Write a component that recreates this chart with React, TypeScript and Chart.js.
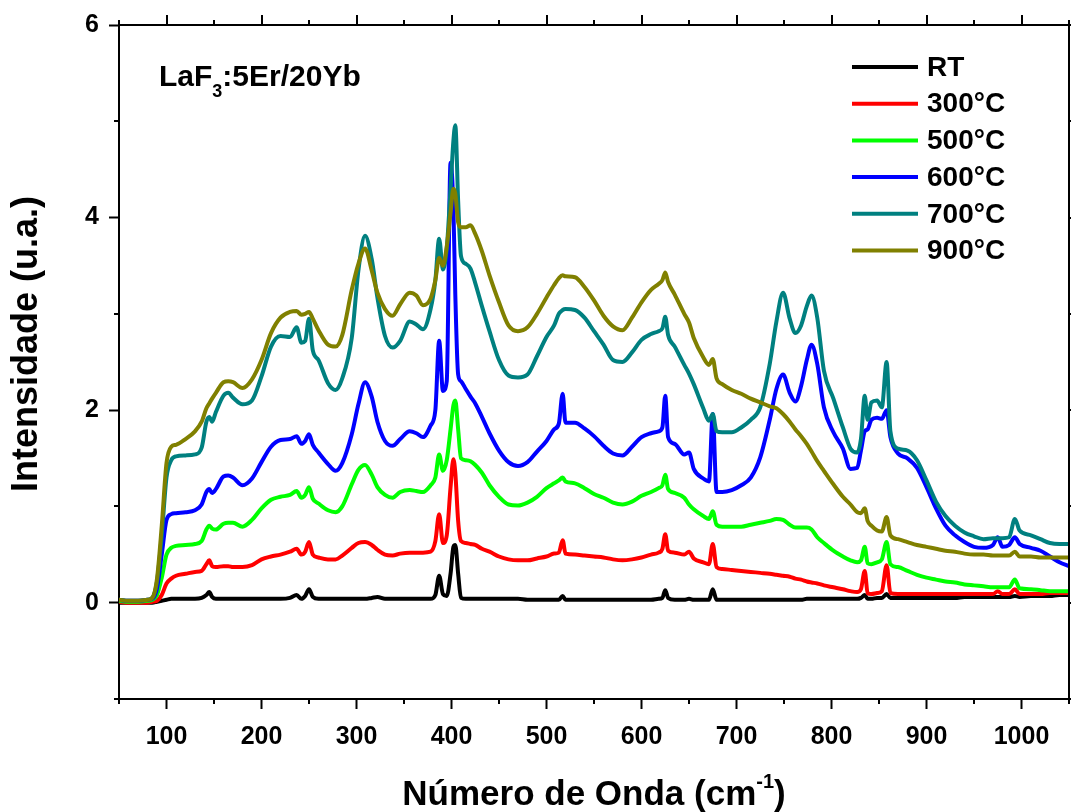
import React, { useEffect, useRef } from "react";
import { Chart, registerables } from "chart.js";

Chart.register(...registerables);

const FONT = "'Liberation Sans', Arial, Helvetica, sans-serif";

// Raman shift (cm^-1)
const WAVENUMBER = [
  50, 60, 70, 80, 85, 90, 95, 100, 105, 110,
  120, 130, 137, 142, 145, 148, 152, 160, 165, 170,
  180, 190, 200, 210, 220, 230, 237, 242, 246, 250,
  254, 260, 270, 278, 285, 295, 302, 309, 316, 322,
  330, 338, 346, 356, 363, 370, 378, 383, 387, 391,
  395, 399, 402, 404, 407, 410, 415, 420, 425, 432,
  440, 450, 460, 470, 480, 490, 500, 508, 513, 517,
  520, 530, 540, 550, 560, 570, 580, 590, 600, 610,
  618, 622, 625, 628, 635, 645, 650, 655, 665, 671,
  675, 679, 685, 695, 705, 715, 725, 735, 742, 749,
  756, 762, 768, 774, 779, 785, 792, 802, 812, 820,
  827, 831, 835, 838, 842, 848, 853, 858, 862, 870,
  880, 890, 900, 910, 920, 930, 940, 950, 960, 970,
  975, 980, 987, 993, 998, 1010, 1020, 1030, 1040, 1050,
];

const RT = [
  0.00, 0.00, 0.00, 0.00, 0.00, 0.01, 0.02, 0.03, 0.04, 0.04,
  0.04, 0.04, 0.05, 0.08, 0.11, 0.06, 0.04, 0.04, 0.04, 0.04,
  0.04, 0.04, 0.04, 0.04, 0.04, 0.05, 0.08, 0.04, 0.07, 0.14,
  0.06, 0.04, 0.04, 0.04, 0.04, 0.04, 0.04, 0.04, 0.05, 0.06,
  0.04, 0.04, 0.04, 0.04, 0.04, 0.04, 0.04, 0.08, 0.28, 0.09,
  0.07, 0.30, 0.58, 0.60, 0.30, 0.05, 0.04, 0.04, 0.04, 0.04,
  0.04, 0.04, 0.04, 0.04, 0.03, 0.03, 0.03, 0.03, 0.03, 0.07,
  0.03, 0.03, 0.03, 0.03, 0.03, 0.03, 0.03, 0.03, 0.03, 0.03,
  0.04, 0.05, 0.13, 0.05, 0.03, 0.03, 0.04, 0.03, 0.03, 0.03,
  0.14, 0.03, 0.03, 0.03, 0.03, 0.03, 0.03, 0.03, 0.03, 0.03,
  0.03, 0.03, 0.03, 0.04, 0.04, 0.04, 0.04, 0.04, 0.04, 0.04,
  0.04, 0.05, 0.08, 0.04, 0.04, 0.05, 0.05, 0.09, 0.05, 0.05,
  0.05, 0.05, 0.05, 0.05, 0.05, 0.05, 0.06, 0.06, 0.06, 0.06,
  0.06, 0.06, 0.06, 0.07, 0.06, 0.07, 0.07, 0.07, 0.08, 0.08,
];

const C300 = [
  0.01, 0.00, 0.00, 0.00, 0.01, 0.02, 0.08, 0.20, 0.25, 0.28,
  0.30, 0.32, 0.33, 0.40, 0.44, 0.38, 0.37, 0.38, 0.38, 0.37,
  0.37, 0.39, 0.45, 0.48, 0.50, 0.53, 0.56, 0.50, 0.53, 0.63,
  0.50, 0.47, 0.45, 0.45, 0.49, 0.57, 0.62, 0.63, 0.60, 0.55,
  0.50, 0.49, 0.51, 0.52, 0.52, 0.52, 0.53, 0.64, 0.92, 0.62,
  0.70, 1.20, 1.49, 1.35, 0.85, 0.64, 0.62, 0.61, 0.60, 0.56,
  0.53, 0.48, 0.45, 0.44, 0.44, 0.46, 0.48, 0.51, 0.52, 0.65,
  0.51, 0.50, 0.49, 0.48, 0.47, 0.45, 0.44, 0.45, 0.47, 0.50,
  0.52, 0.56, 0.71, 0.54, 0.52, 0.50, 0.53, 0.46, 0.42, 0.40,
  0.61, 0.37, 0.35, 0.34, 0.33, 0.32, 0.31, 0.30, 0.29, 0.28,
  0.27, 0.25, 0.24, 0.22, 0.21, 0.20, 0.18, 0.16, 0.14, 0.12,
  0.11, 0.14, 0.33, 0.10, 0.09, 0.10, 0.12, 0.39, 0.10, 0.09,
  0.09, 0.09, 0.09, 0.09, 0.09, 0.09, 0.09, 0.09, 0.09, 0.09,
  0.12, 0.09, 0.09, 0.14, 0.09, 0.09, 0.09, 0.10, 0.10, 0.10,
];

const C500 = [
  0.02, 0.01, 0.01, 0.02, 0.03, 0.08, 0.26, 0.50, 0.57, 0.59,
  0.60, 0.61, 0.64, 0.76, 0.80, 0.77, 0.76, 0.82, 0.83, 0.83,
  0.79, 0.86, 0.98, 1.07, 1.10, 1.12, 1.16, 1.09, 1.12, 1.20,
  1.08, 1.03, 0.96, 0.94, 1.00, 1.23, 1.38, 1.43, 1.33, 1.20,
  1.12, 1.09, 1.15, 1.17, 1.16, 1.15, 1.22, 1.30, 1.54, 1.37,
  1.48, 1.80, 2.05, 2.10, 1.80, 1.50, 1.48, 1.47, 1.43, 1.35,
  1.22, 1.10, 1.02, 1.01, 1.04, 1.10, 1.19, 1.24, 1.27, 1.30,
  1.26, 1.24, 1.19, 1.13, 1.09, 1.04, 1.02, 1.05, 1.11, 1.15,
  1.19, 1.22, 1.33, 1.18, 1.14, 1.09, 1.02, 0.97, 0.90, 0.87,
  0.95, 0.81, 0.79, 0.79, 0.79, 0.81, 0.83, 0.85, 0.87, 0.86,
  0.81, 0.78, 0.78, 0.78, 0.76, 0.68, 0.62, 0.54, 0.48, 0.44,
  0.42, 0.44, 0.58, 0.41, 0.40, 0.42, 0.45, 0.63, 0.40, 0.37,
  0.33, 0.29, 0.26, 0.24, 0.22, 0.21, 0.19, 0.18, 0.17, 0.16,
  0.16, 0.16, 0.16, 0.24, 0.15, 0.14, 0.13, 0.12, 0.12, 0.12,
];

const C600 = [
  0.03, 0.02, 0.02, 0.03, 0.04, 0.15, 0.50, 0.86, 0.92, 0.93,
  0.94, 0.96, 1.02, 1.15, 1.18, 1.14, 1.18, 1.31, 1.32, 1.30,
  1.22, 1.29, 1.46, 1.62, 1.69, 1.70, 1.73, 1.65, 1.68, 1.75,
  1.64, 1.56, 1.44, 1.37, 1.45, 1.75, 2.06, 2.29, 2.14, 1.88,
  1.68, 1.63, 1.70, 1.78, 1.76, 1.72, 1.84, 2.00, 2.72, 2.20,
  2.30, 4.57, 4.10, 3.20, 2.37, 2.30, 2.22, 2.14, 2.07, 1.93,
  1.76, 1.58, 1.46, 1.42, 1.46, 1.57, 1.68, 1.80, 1.86, 2.17,
  1.87, 1.87, 1.81, 1.73, 1.63, 1.55, 1.53, 1.62, 1.72, 1.76,
  1.78, 1.82, 2.15, 1.72, 1.65, 1.54, 1.56, 1.39, 1.29, 1.26,
  1.96, 1.15, 1.15, 1.17, 1.22, 1.30, 1.51, 1.90, 2.22, 2.37,
  2.18, 2.09, 2.25, 2.52, 2.68, 2.48, 2.03, 1.77, 1.60, 1.39,
  1.40, 1.58, 1.78, 1.80, 1.90, 1.92, 1.91, 2.00, 1.72, 1.55,
  1.50, 1.40, 1.20, 0.98, 0.80, 0.70, 0.63, 0.58, 0.57, 0.60,
  0.68, 0.58, 0.60, 0.68, 0.61, 0.57, 0.54, 0.48, 0.42, 0.38,
];

const C700 = [
  0.03, 0.02, 0.02, 0.03, 0.05, 0.22, 0.70, 1.30, 1.48, 1.52,
  1.53, 1.54, 1.61, 1.88, 1.93, 1.88, 1.98, 2.15, 2.18, 2.13,
  2.06, 2.10, 2.35, 2.66, 2.77, 2.76, 2.86, 2.70, 2.72, 2.95,
  2.62, 2.52, 2.28, 2.21, 2.33, 2.75, 3.45, 3.81, 3.57, 3.17,
  2.77, 2.65, 2.72, 2.92, 2.89, 2.84, 3.05, 3.35, 3.78, 3.46,
  3.68, 4.30, 4.80, 4.96, 4.17, 3.60, 3.52, 3.47, 3.32, 3.08,
  2.82, 2.52, 2.36, 2.34, 2.37, 2.56, 2.76, 2.88, 3.00, 3.04,
  3.05, 3.04, 2.96, 2.82, 2.68, 2.52, 2.50, 2.60, 2.73, 2.79,
  2.82, 2.85, 2.97, 2.78, 2.66, 2.47, 2.38, 2.27, 2.02, 1.89,
  1.96, 1.78, 1.77, 1.77, 1.82, 1.90, 2.03, 2.48, 2.92, 3.22,
  2.95, 2.80, 2.88, 3.08, 3.19, 2.96, 2.41, 2.12, 1.82, 1.60,
  1.56, 1.70, 2.15, 1.90, 2.08, 2.10, 2.03, 2.50, 1.78, 1.60,
  1.58, 1.48, 1.27, 1.05, 0.90, 0.80, 0.73, 0.69, 0.66, 0.67,
  0.67, 0.67, 0.68, 0.87, 0.75, 0.70, 0.66, 0.62, 0.61, 0.61,
];

const C900 = [
  0.03, 0.02, 0.02, 0.03, 0.05, 0.25, 0.80, 1.45, 1.62, 1.64,
  1.70, 1.78, 1.88, 2.02, 2.07, 2.12, 2.18, 2.29, 2.30, 2.29,
  2.23, 2.32, 2.52, 2.80, 2.96, 3.02, 3.03, 2.99, 3.00, 3.02,
  2.95, 2.83, 2.68, 2.66, 2.78, 3.25, 3.52, 3.68, 3.45, 3.22,
  3.05, 2.98, 3.10, 3.22, 3.19, 3.09, 3.16, 3.35, 3.58, 3.50,
  3.70, 4.05, 4.30, 4.25, 3.95, 3.90, 3.90, 3.92, 3.83, 3.65,
  3.40, 3.12, 2.88, 2.82, 2.86, 3.00, 3.17, 3.30, 3.37, 3.40,
  3.39, 3.38, 3.28, 3.14, 2.98, 2.87, 2.83, 2.96, 3.12, 3.25,
  3.31, 3.35, 3.43, 3.33, 3.20, 3.00, 2.91, 2.75, 2.55, 2.47,
  2.53, 2.33, 2.27, 2.21, 2.17, 2.12, 2.08, 2.04, 2.02, 1.96,
  1.88, 1.80, 1.73, 1.65, 1.57, 1.47, 1.37, 1.23, 1.10, 1.02,
  0.94, 0.93, 0.98, 0.85, 0.80, 0.75, 0.74, 0.89, 0.70, 0.66,
  0.63, 0.60, 0.58, 0.56, 0.54, 0.53, 0.51, 0.50, 0.50, 0.49,
  0.49, 0.49, 0.49, 0.53, 0.48, 0.48, 0.47, 0.47, 0.47, 0.47,
];

const SERIES = [RT, C300, C500, C600, C700, C900];
const SERIES_LABELS = ["RT", "300°C", "500°C", "600°C", "700°C", "900°C"];
const SERIES_COLORS = ["#000000", "#ff0000", "#00ff00", "#0000ff", "#008080", "#808000"];

const X_TICKS = [100, 200, 300, 400, 500, 600, 700, 800, 900, 1000];
const X_MINOR = [50, 150, 250, 350, 450, 550, 650, 750, 850, 950, 1050];
const Y_TICKS = [0, 2, 4, 6];
const Y_MINOR = [-1, 1, 3, 5];

const WIDTH = 1071;
const HEIGHT = 812;
const MAJOR_LEN = 10;
const MINOR_LEN = 5;

const decorations = {
  id: "decorations",
  afterDraw(chart: any) {
    const { ctx, chartArea: a, scales } = chart;
    const xs = scales.x;
    const ys = scales.y;
    ctx.save();

    // closing frame (top and right) plus mirrored and minor ticks
    ctx.strokeStyle = "#000";
    ctx.lineWidth = 2;
    ctx.lineCap = "butt";
    ctx.beginPath();
    ctx.moveTo(a.left - 1, a.top);
    ctx.lineTo(a.right, a.top);
    ctx.moveTo(a.right, a.top - 1);
    ctx.lineTo(a.right, a.bottom + 1);
    for (const v of X_TICKS) {
      const px = Math.round(xs.getPixelForValue(v));
      ctx.moveTo(px, a.top);
      ctx.lineTo(px, a.top - MAJOR_LEN);
    }
    for (const v of X_MINOR) {
      const px = Math.round(xs.getPixelForValue(v));
      ctx.moveTo(px, a.top);
      ctx.lineTo(px, a.top - MINOR_LEN);
      ctx.moveTo(px, a.bottom);
      ctx.lineTo(px, a.bottom + MINOR_LEN);
    }
    for (const v of Y_TICKS) {
      const py = Math.round(ys.getPixelForValue(v));
      ctx.moveTo(a.right, py);
      ctx.lineTo(a.right + MAJOR_LEN, py);
    }
    for (const v of Y_MINOR) {
      const py = Math.round(ys.getPixelForValue(v));
      ctx.moveTo(a.left, py);
      ctx.lineTo(a.left - MINOR_LEN, py);
      ctx.moveTo(a.right, py);
      ctx.lineTo(a.right + MINOR_LEN, py);
    }
    ctx.stroke();

    ctx.fillStyle = "#000";
    ctx.textAlign = "left";
    ctx.textBaseline = "alphabetic";

    // sample name with subscript
    const big = `bold 30px ${FONT}`;
    const sub = `bold 18px ${FONT}`;
    let tx = 159;
    ctx.font = big;
    ctx.fillText("LaF", tx, 86);
    tx += ctx.measureText("LaF").width;
    ctx.font = sub;
    ctx.fillText("3", tx, 97);
    tx += ctx.measureText("3").width;
    ctx.font = big;
    ctx.fillText(":5Er/20Yb", tx, 86);

    // legend
    ctx.font = `bold 28px ${FONT}`;
    ctx.textBaseline = "middle";
    chart.data.datasets.forEach((ds: any, i: number) => {
      const y = 67 + i * 36.7;
      ctx.strokeStyle = ds.borderColor;
      ctx.lineWidth = 4;
      ctx.beginPath();
      ctx.moveTo(852, y);
      ctx.lineTo(918, y);
      ctx.stroke();
      ctx.fillText(ds.label, 927, y + 1);
    });

    // x axis title with superscript
    ctx.textBaseline = "alphabetic";
    const tMain = "Número de Onda (cm";
    const tSup = "-1";
    const tEnd = ")";
    const fMain = `bold 35px ${FONT}`;
    const fSup = `bold 20px ${FONT}`;
    ctx.font = fMain;
    const w1 = ctx.measureText(tMain).width;
    const w3 = ctx.measureText(tEnd).width;
    ctx.font = fSup;
    const w2 = ctx.measureText(tSup).width;
    let xx = (a.left + a.right) / 2 - (w1 + w2 + w3) / 2;
    ctx.font = fMain;
    ctx.fillText(tMain, xx, 805);
    xx += w1;
    ctx.font = fSup;
    ctx.fillText(tSup, xx, 788);
    xx += w2;
    ctx.font = fMain;
    ctx.fillText(tEnd, xx, 805);

    // y axis title
    ctx.save();
    ctx.translate(37, 344);
    ctx.rotate(-Math.PI / 2);
    ctx.textAlign = "center";
    ctx.font = `bold 36px ${FONT}`;
    ctx.fillText("Intensidade (u.a.)", 0, 0);
    ctx.restore();

    ctx.restore();
  },
};

export default function App() {
  const canvasRef = useRef<HTMLCanvasElement | null>(null);

  useEffect(() => {
    const canvas = canvasRef.current;
    if (!canvas) return;
    const tickFont = { family: FONT, size: 25, weight: "bold" as const };

    const chart = new Chart(canvas, {
      type: "line",
      data: {
        datasets: SERIES.map((values, i) => ({
          label: SERIES_LABELS[i],
          data: WAVENUMBER.map((x, j) => ({ x, y: values[j] })),
          borderColor: SERIES_COLORS[i],
          backgroundColor: SERIES_COLORS[i],
          borderWidth: 4,
          pointRadius: 0,
          fill: false,
          cubicInterpolationMode: "monotone" as const,
          borderJoinStyle: "round" as const,
          borderCapStyle: "round" as const,
          order: SERIES.length - 1 - i,
        })),
      },
      options: {
        responsive: false,
        animation: false,
        devicePixelRatio: 1,
        events: [],
        layout: { padding: { top: 24, right: 2, left: 0, bottom: 0 } },
        plugins: {
          legend: { display: false },
          tooltip: { enabled: false },
        },
        scales: {
          x: {
            type: "linear",
            min: 50,
            max: 1050,
            afterBuildTicks: (s: any) => {
              s.ticks = X_TICKS.map((v) => ({ value: v }));
            },
            afterFit: (s: any) => {
              s.height = 113;
            },
            ticks: {
              autoSkip: false,
              maxRotation: 0,
              padding: 13,
              color: "#000",
              font: tickFont,
              callback: (v: any) => String(v),
            },
            grid: {
              drawOnChartArea: false,
              drawTicks: true,
              tickLength: MAJOR_LEN,
              tickWidth: 2,
              tickColor: "#000",
            },
            border: { display: true, color: "#000", width: 2 },
          },
          y: {
            type: "linear",
            min: -1,
            max: 6,
            afterBuildTicks: (s: any) => {
              s.ticks = Y_TICKS.map((v) => ({ value: v }));
            },
            afterFit: (s: any) => {
              s.width = 119;
            },
            ticks: {
              autoSkip: false,
              padding: 10,
              color: "#000",
              font: tickFont,
              callback: (v: any) => String(v),
            },
            grid: {
              drawOnChartArea: false,
              drawTicks: true,
              tickLength: MAJOR_LEN,
              tickWidth: 2,
              tickColor: "#000",
            },
            border: { display: true, color: "#000", width: 2 },
          },
        },
      },
      plugins: [decorations],
    });

    return () => chart.destroy();
  }, []);

  return (
    <div style={{ position: "absolute", left: 0, top: 0, width: WIDTH, height: HEIGHT, background: "#fff" }}>
      <canvas ref={canvasRef} width={WIDTH} height={HEIGHT} style={{ display: "block" }} />
    </div>
  );
}
